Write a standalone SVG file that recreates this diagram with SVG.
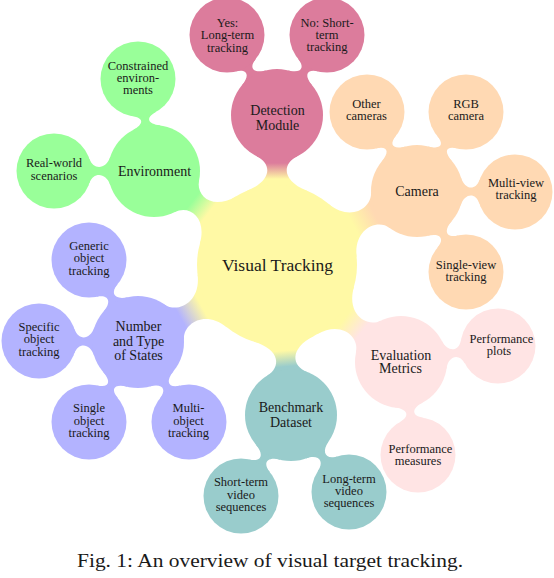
<svg xmlns="http://www.w3.org/2000/svg" width="554" height="578" viewBox="0 0 554 578">
<style>
text{font-family:"Liberation Serif","Times New Roman",serif;fill:#1a1a1a;text-anchor:middle}
.t0{font-size:17.5px}
.t1{font-size:14px}
.t2{font-size:12.5px}
.cy{fill:#fff9a5}
.cd{fill:#dc7c9c}
.cc{fill:#ffd9b3}
.ce{fill:#99ff99}
.cn{fill:#b3b3ff}
.cb{fill:#99cccc}
.cv{fill:#ffe4e4}
</style>
<defs>
<linearGradient id="gD" gradientUnits="userSpaceOnUse" x1="86" y1="0" x2="102" y2="0"><stop offset="0" stop-color="#fff9a5"/><stop offset="1" stop-color="#dc7c9c"/></linearGradient>
<linearGradient id="gC" gradientUnits="userSpaceOnUse" x1="86" y1="0" x2="110" y2="0"><stop offset="0" stop-color="#fff9a5"/><stop offset="1" stop-color="#ffd9b3"/></linearGradient>
<linearGradient id="gE" gradientUnits="userSpaceOnUse" x1="86" y1="0" x2="106" y2="0"><stop offset="0" stop-color="#fff9a5"/><stop offset="1" stop-color="#99ff99"/></linearGradient>
<linearGradient id="gN" gradientUnits="userSpaceOnUse" x1="86" y1="0" x2="110" y2="0"><stop offset="0" stop-color="#fff9a5"/><stop offset="1" stop-color="#b3b3ff"/></linearGradient>
<linearGradient id="gB" gradientUnits="userSpaceOnUse" x1="86" y1="0" x2="102" y2="0"><stop offset="0" stop-color="#fff9a5"/><stop offset="1" stop-color="#99cccc"/></linearGradient>
<linearGradient id="gV" gradientUnits="userSpaceOnUse" x1="86" y1="0" x2="108" y2="0"><stop offset="0" stop-color="#fff9a5"/><stop offset="1" stop-color="#ffe4e4"/></linearGradient>
</defs>
<rect width="554" height="578" fill="#ffffff"/>
<g id="connectors">
<path fill="url(#gD)" transform="translate(277 265) rotate(-90)" d="M74.16 -30C84.66 -4.04 101.62 -5.59 108.58 -20L150 0L108.58 20C101.62 5.59 84.66 4.04 74.16 30L0 0Z"/>
<path fill="url(#gC)" transform="translate(277 265) rotate(-27.86)" d="M74.16 -30C84.66 -4.04 110.02 -5.59 116.98 -20L158.4 0L116.98 20C110.02 5.59 84.66 4.04 74.16 30L0 0Z"/>
<path fill="url(#gE)" transform="translate(277 265) rotate(-142.61)" d="M74.16 -30C84.66 -4.04 106.42 -5.59 113.38 -20L154.8 0L113.38 20C106.42 5.59 84.66 4.04 74.16 30L0 0Z"/>
<path fill="url(#gN)" transform="translate(277 265) rotate(151.01)" d="M74.16 -30C84.66 -4.04 110.52 -5.59 117.48 -20L158.9 0L117.48 20C110.52 5.59 84.66 4.04 74.16 30L0 0Z"/>
<path fill="url(#gB)" transform="translate(277 265) rotate(84.67)" d="M74.16 -30C84.66 -4.04 102.27 -5.59 109.23 -20L150.65 0L109.23 20C102.27 5.59 84.66 4.04 74.16 30L0 0Z"/>
<path fill="url(#gV)" transform="translate(277 265) rotate(38.03)" d="M74.16 -30C84.66 -4.04 109.02 -5.59 115.98 -20L157.4 0L115.98 20C109.02 5.59 84.66 4.04 74.16 30L0 0Z"/>
<path class="cd" transform="translate(277 115) rotate(-122)" d="M43.82 -14C47.77 -1.61 54.97 -0.64 58.81 -12L94.34 0L58.81 12C54.97 0.64 47.77 1.61 43.82 14L0 0Z"/>
<path class="cd" transform="translate(277 115) rotate(-58)" d="M43.82 -14C47.77 -1.61 54.97 -0.64 58.81 -12L94.34 0L58.81 12C54.97 0.64 47.77 1.61 43.82 14L0 0Z"/>
<path class="ce" transform="translate(154 171) rotate(-99.87)" d="M43.82 -14C47.77 -1.61 54.03 -0.64 57.87 -12L93.4 0L57.87 12C54.03 0.64 47.77 1.61 43.82 14L0 0Z"/>
<path class="ce" transform="translate(154 171) rotate(180)" d="M43.82 -14C47.77 -1.61 60.63 -0.64 64.47 -12L100 0L64.47 12C60.63 0.64 47.77 1.61 43.82 14L0 0Z"/>
<path class="cc" transform="translate(417 191) rotate(-122.33)" d="M43.82 -14C47.77 -1.61 54.13 -0.64 57.97 -12L93.5 0L57.97 12C54.13 0.64 47.77 1.61 43.82 14L0 0Z"/>
<path class="cc" transform="translate(417 191) rotate(-58.19)" d="M43.82 -14C47.77 -1.61 53.59 -0.64 57.43 -12L92.96 0L57.43 12C53.59 0.64 47.77 1.61 43.82 14L0 0Z"/>
<path class="cc" transform="translate(417 191) rotate(0.58)" d="M43.82 -14C47.77 -1.61 58.63 -0.64 62.47 -12L98 0L62.47 12C58.63 0.64 47.77 1.61 43.82 14L0 0Z"/>
<path class="cc" transform="translate(417 191) rotate(58.83)" d="M43.82 -14C47.77 -1.61 55.3 -0.64 59.14 -12L94.67 0L59.14 12C55.3 0.64 47.77 1.61 43.82 14L0 0Z"/>
<path class="cn" transform="translate(138 342) rotate(-120.86)" d="M43.82 -14C47.77 -1.61 56.13 -0.64 59.97 -12L95.5 0L59.97 12C56.13 0.64 47.77 1.61 43.82 14L0 0Z"/>
<path class="cn" transform="translate(138 342) rotate(180.58)" d="M43.82 -14C47.77 -1.61 59.63 -0.64 63.47 -12L99 0L63.47 12C59.63 0.64 47.77 1.61 43.82 14L0 0Z"/>
<path class="cn" transform="translate(138 342) rotate(121.49)" d="M43.82 -14C47.77 -1.61 54.43 -0.64 58.27 -12L93.8 0L58.27 12C54.43 0.64 47.77 1.61 43.82 14L0 0Z"/>
<path class="cn" transform="translate(138 342) rotate(57.48)" d="M43.82 -14C47.77 -1.61 55.53 -0.64 59.37 -12L94.9 0L59.37 12C55.53 0.64 47.77 1.61 43.82 14L0 0Z"/>
<path class="cb" transform="translate(291 415) rotate(121.68)" d="M43.82 -14C47.77 -1.61 55.83 -0.64 59.67 -12L95.2 0L59.67 12C55.83 0.64 47.77 1.61 43.82 14L0 0Z"/>
<path class="cb" transform="translate(291 415) rotate(53)" d="M43.82 -14C47.77 -1.61 57.03 -0.64 60.87 -12L96.4 0L60.87 12C57.03 0.64 47.77 1.61 43.82 14L0 0Z"/>
<path class="cv" transform="translate(401 362) rotate(-9.37)" d="M43.82 -14C47.77 -1.61 58.93 -0.64 62.77 -12L98.3 0L62.77 12C58.93 0.64 47.77 1.61 43.82 14L0 0Z"/>
<path class="cv" transform="translate(401 362) rotate(79.64)" d="M43.82 -14C47.77 -1.61 55.13 -0.64 58.97 -12L94.5 0L58.97 12C55.13 0.64 47.77 1.61 43.82 14L0 0Z"/>
</g>
<g id="visual-tracking"><circle class="cy" cx="277" cy="265" r="80"/><text class="t0" x="277.5" y="271">Visual Tracking</text></g>
<g id="detection-module"><circle class="cd" cx="277" cy="115" r="46"/><text class="t1" x="277.5" y="115">Detection</text><text class="t1" x="277.5" y="129.5">Module</text></g>
<g id="yes-long-term"><circle class="cd" cx="227" cy="35" r="37.5"/><text class="t2" x="227.5" y="27">Yes:</text><text class="t2" x="227.5" y="39.4">Long-term</text><text class="t2" x="227.5" y="51.8">tracking</text></g>
<g id="no-short-term"><circle class="cd" cx="327" cy="35" r="37.5"/><text class="t2" x="327" y="26.5">No: Short-</text><text class="t2" x="327" y="38.9">term</text><text class="t2" x="327" y="51.3">tracking</text></g>
<g id="environment"><circle class="ce" cx="154" cy="171" r="46"/><text class="t1" x="154.5" y="175.5">Environment</text></g>
<g id="constrained-environments"><circle class="ce" cx="138" cy="79" r="37.5"/><text class="t2" x="138" y="69.5">Constrained</text><text class="t2" x="138" y="81.9">environ-</text><text class="t2" x="138" y="94.3">ments</text></g>
<g id="real-world-scenarios"><circle class="ce" cx="54" cy="171" r="37.5"/><text class="t2" x="54" y="167">Real-world</text><text class="t2" x="54" y="179.5">scenarios</text></g>
<g id="camera"><circle class="cc" cx="417" cy="191" r="46"/><text class="t1" x="417" y="196">Camera</text></g>
<g id="other-cameras"><circle class="cc" cx="367" cy="112" r="37.5"/><text class="t2" x="366.5" y="107.5">Other</text><text class="t2" x="366.5" y="120">cameras</text></g>
<g id="rgb-camera"><circle class="cc" cx="466" cy="112" r="37.5"/><text class="t2" x="466" y="107.5">RGB</text><text class="t2" x="466" y="120">camera</text></g>
<g id="multi-view-tracking"><circle class="cc" cx="515" cy="192" r="37.5"/><text class="t2" x="516" y="187">Multi-view</text><text class="t2" x="516" y="199.4">tracking</text></g>
<g id="single-view-tracking"><circle class="cc" cx="466" cy="272" r="37.5"/><text class="t2" x="466" y="268.5">Single-view</text><text class="t2" x="466" y="281">tracking</text></g>
<g id="number-and-type-of-states"><circle class="cn" cx="138" cy="342" r="46"/><text class="t1" x="138.5" y="331">Number</text><text class="t1" x="138.5" y="345.5">and Type</text><text class="t1" x="138.5" y="360">of States</text></g>
<g id="generic-object-tracking"><circle class="cn" cx="89" cy="260" r="37.5"/><text class="t2" x="89" y="250">Generic</text><text class="t2" x="89" y="262.4">object</text><text class="t2" x="89" y="274.8">tracking</text></g>
<g id="specific-object-tracking"><circle class="cn" cx="39" cy="341" r="37.5"/><text class="t2" x="39" y="331">Specific</text><text class="t2" x="39" y="343.4">object</text><text class="t2" x="39" y="355.8">tracking</text></g>
<g id="single-object-tracking"><circle class="cn" cx="89" cy="422" r="37.5"/><text class="t2" x="89" y="412.3">Single</text><text class="t2" x="89" y="424.7">object</text><text class="t2" x="89" y="437">tracking</text></g>
<g id="multi-object-tracking"><circle class="cn" cx="189" cy="422" r="37.5"/><text class="t2" x="188.5" y="412.3">Multi-</text><text class="t2" x="188.5" y="424.7">object</text><text class="t2" x="188.5" y="437">tracking</text></g>
<g id="benchmark-dataset"><circle class="cb" cx="291" cy="415" r="46"/><text class="t1" x="291" y="412.3">Benchmark</text><text class="t1" x="291" y="426.7">Dataset</text></g>
<g id="short-term-video-sequences"><circle class="cb" cx="241" cy="496" r="37.5"/><text class="t2" x="241" y="486.2">Short-term</text><text class="t2" x="241" y="498.6">video</text><text class="t2" x="241" y="511">sequences</text></g>
<g id="long-term-video-sequences"><circle class="cb" cx="349" cy="492" r="37.5"/><text class="t2" x="349" y="482.5">Long-term</text><text class="t2" x="349" y="494.9">video</text><text class="t2" x="349" y="507.3">sequences</text></g>
<g id="evaluation-metrics"><circle class="cv" cx="401" cy="362" r="46"/><text class="t1" x="401" y="360">Evaluation</text><text class="t1" x="400.5" y="373.3">Metrics</text></g>
<g id="performance-plots"><circle class="cv" cx="498" cy="346" r="37.5"/><text class="t2" x="501.5" y="342.5">Performance</text><text class="t2" x="499" y="355">plots</text></g>
<g id="performance-measures"><circle class="cv" cx="418" cy="455" r="37.5"/><text class="t2" x="420.5" y="452.7">Performance</text><text class="t2" x="418" y="465">measures</text></g>
<text x="270" y="567" style="font-size:19.5px" textLength="386" lengthAdjust="spacingAndGlyphs">Fig. 1: An overview of visual target tracking.</text>
</svg>
